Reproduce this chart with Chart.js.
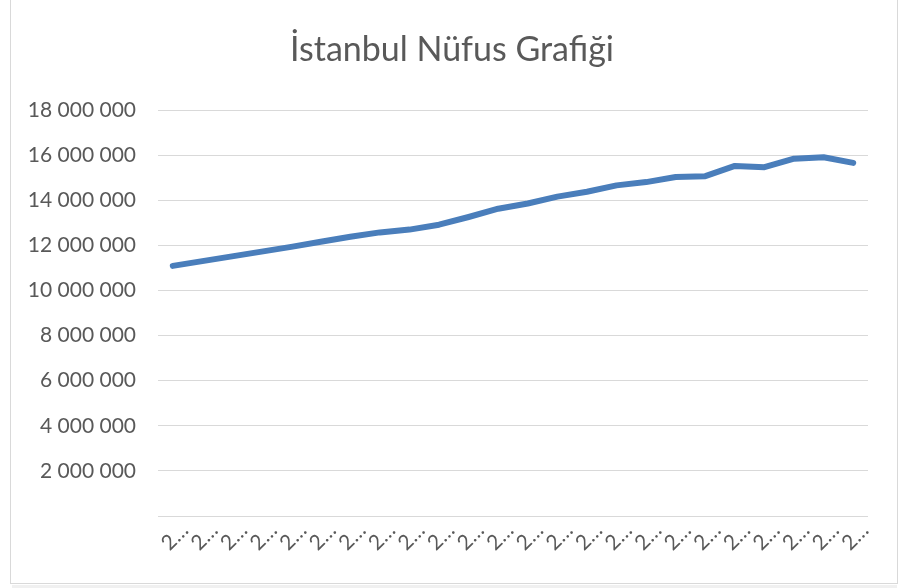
<!DOCTYPE html>
<html>
<head>
<meta charset="utf-8">
<title>İstanbul Nüfus Grafiği</title>
<script src="https://cdn.jsdelivr.net/npm/chart.js@4/dist/chart.umd.min.js"></script>
<style>
  html, body { margin: 0; padding: 0; background: #ffffff; }
  #wrap { width: 904px; height: 588px; }
</style>
</head>
<body>
<div id="wrap"><canvas id="lineChart" width="904" height="588"></canvas></div>
<script>
"use strict";

// years on the category axis
const years = [
  "2000", "2001", "2002", "2003", "2004", "2005", "2006", "2007",
  "2008", "2009", "2010", "2011", "2012", "2013", "2014", "2015",
  "2016", "2017", "2018", "2019", "2020", "2021", "2022", "2023",
];

// population of Istanbul per year
const population = [
  11090000, 11300000, 11510000, 11720000, 11930000, 12160000, 12380000, 12573836,
  12697164, 12915158, 13255685, 13624240, 13854740, 14160467, 14377018, 14657434,
  14804116, 15029231, 15067724, 15519267, 15462452, 15840900, 15907951, 15655924,
];

// y axis ticks
const yMin = 0;
const yMax = 18000000;
const yStep = 2000000;

const chartTitle = "İstanbul Nüfus Grafiği";
const textColor = "#595959";
const gridColor = "#d9d9d9";

// thousands with a space, zero left blank like the Excel format
const formatNumber = (v) => (v === 0 ? "" : String(v).replace(/\B(?=(\d{3})+(?!\d))/g, " "));

// white background + light frame around the chart, title centred on the page
const framePlugin = {
  id: "frame",
  beforeDraw(chart) {
    const { ctx, width, height } = chart;
    ctx.save();
    ctx.fillStyle = "#ffffff";
    ctx.fillRect(0, 0, width, height);
    ctx.strokeStyle = "#d9d9d9";
    ctx.lineWidth = 1;
    ctx.strokeRect(10.5, -1.5, 887, 585);
    ctx.fillStyle = "#f0f0f0";
    ctx.fillRect(12, 585, 885, 3);
    ctx.restore();
  },
  afterDraw(chart) {
    const { ctx, width } = chart;
    ctx.save();
    ctx.fillStyle = textColor;
    ctx.font = "34px Lato";
    ctx.textAlign = "center";
    ctx.textBaseline = "alphabetic";
    ctx.fillText(chartTitle, width / 2, 61);
    ctx.restore();
  },
};

const container = document.getElementById("lineChart");

new Chart(container, {
  type: "line",
  data: {
    labels: years,
    datasets: [
      {
        label: "Nüfus",
        data: population,
        borderColor: "#4a7ebb",
        borderWidth: 6,
        pointRadius: 0,
        tension: 0,
        borderCapStyle: "round",
        borderJoinStyle: "round",
        fill: false,
      },
    ],
  },
  options: {
    responsive: false,
    animation: false,
    devicePixelRatio: 1,
    layout: {
      padding: { left: 12, right: 36, top: 110, bottom: 10 },
    },
    plugins: {
      legend: { display: false },
      tooltip: { enabled: false },
      title: { display: false },
    },
    scales: {
      x: {
        offset: true,
        grid: { display: false, drawTicks: false },
        border: { display: false },
        ticks: {
          color: textColor,
          font: { family: "Lato", size: 21 },
          minRotation: 45,
          maxRotation: 45,
          autoSkip: false,
          padding: 2,
          labelOffset: 12,
          callback: function (value) {
            return this.getLabelForValue(value).slice(0, 1) + "…";
          },
        },
        afterFit: (scale) => {
          scale.height = 62;
        },
      },
      y: {
        min: yMin,
        max: yMax,
        grid: { color: gridColor, lineWidth: 1, drawTicks: false },
        border: { display: false },
        ticks: {
          stepSize: yStep,
          color: textColor,
          font: { family: "Lato", size: 21 },
          padding: 22,
          callback: (v) => formatNumber(v),
        },
        afterFit: (scale) => {
          scale.width = 146;
        },
      },
    },
  },
  plugins: [framePlugin],
});
</script>
</body>
</html>
